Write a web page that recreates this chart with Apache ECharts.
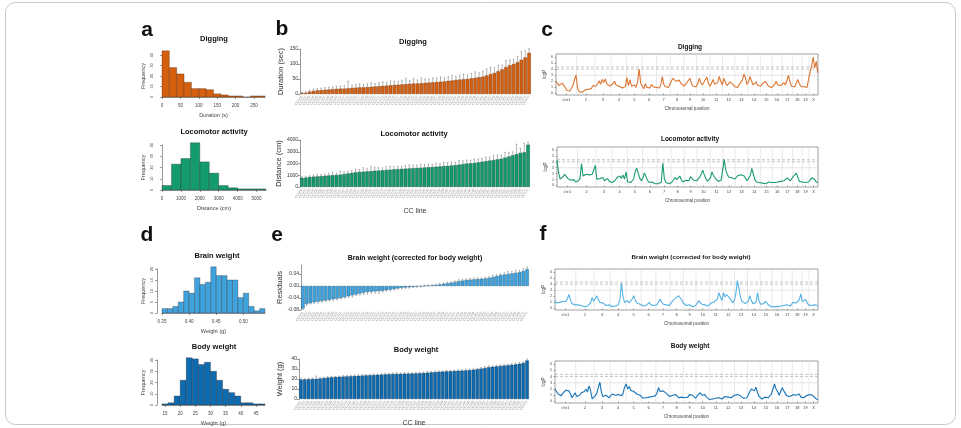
<!DOCTYPE html>
<html>
<head>
<meta charset="utf-8">
<script src="https://cdn.jsdelivr.net/npm/echarts@6/dist/echarts.min.js"></script>
<style>
html, body {margin: 0; padding: 0; background: #fff;}
#main {width: 961px; height: 428px;}
</style>
</head>
<body>
<div id="main"></div>
<script>
// ---- histograms (a, d) ----
var digHistEdges = [0, 20, 40, 60, 80, 100, 120, 140, 160, 180, 200, 220, 240, 260, 280];
var digHistCounts = [44, 28, 22, 14, 8, 8, 7, 3, 2, 1, 1, 0, 1, 1];
var locoHistEdges = [0, 500, 1000, 1500, 2000, 2500, 3000, 3500, 4000, 4500, 5000, 5500];
var locoHistCounts = [4, 23, 28, 42, 25, 15, 4, 2, 1, 1, 1];
var brainHistEdges = [0.35, 0.36, 0.37, 0.38, 0.39, 0.40, 0.41, 0.42, 0.43, 0.44, 0.45, 0.46, 0.47, 0.48, 0.49, 0.50, 0.51, 0.52, 0.53, 0.54];
var brainHistCounts = [2, 2, 3, 5, 10, 9, 16, 13, 14, 21, 17, 17, 15, 15, 7, 9, 3, 1, 2];
var bodyHistEdges = [14, 16, 18, 20, 22, 24, 26, 28, 30, 32, 34, 36, 38, 40, 42, 44, 46, 48];
var bodyHistCounts = [1, 2, 8, 22, 42, 41, 36, 38, 30, 22, 14, 11, 8, 2, 2, 1, 1];
var digHistTicks = [0, 50, 100, 150, 200, 250];
var locoHistTicks = [0, 1000, 2000, 3000, 4000, 5000];
var brainHistTicks = [0.35, 0.40, 0.45, 0.50];
var bodyHistTicks = [15, 20, 25, 30, 35, 40, 45];

// ---- CC line means, sorted (b, e) ----
var ccLines = ['CC001', 'CC002', 'CC003', 'CC004', 'CC005', 'CC006', 'CC007', 'CC008', 'CC009', 'CC010',
    'CC011', 'CC012', 'CC013', 'CC015', 'CC016', 'CC017', 'CC018', 'CC019', 'CC020', 'CC021',
    'CC022', 'CC023', 'CC024', 'CC025', 'CC026', 'CC027', 'CC028', 'CC029', 'CC030', 'CC031',
    'CC032', 'CC033', 'CC034', 'CC035', 'CC036', 'CC037', 'CC038', 'CC039', 'CC040', 'CC041',
    'CC042', 'CC043', 'CC044', 'CC045', 'CC046', 'CC049', 'CC051', 'CC053', 'CC055', 'CC057',
    'CC058', 'CC059', 'CC060', 'CC061', 'CC062', 'CC063', 'CC065', 'CC068', 'CC071', 'CC072'];
var digMeans = [3, 4, 8, 10, 12, 13, 14, 15, 16, 17, 18, 18, 19, 20, 21, 22, 22, 23, 24, 25,
    26, 27, 28, 29, 30, 31, 32, 33, 34, 35, 35, 36, 37, 38, 39, 40, 41, 42, 44, 45,
    47, 48, 49, 50, 52, 54, 56, 58, 62, 66, 70, 76, 82, 90, 96, 100, 106, 114, 122, 137];
var digErr = [3, 4, 5, 6, 6, 7, 7, 8, 8, 9, 9, 10, 24, 10, 11, 12, 10, 11, 13, 10,
    12, 14, 11, 15, 13, 12, 14, 20, 11, 16, 12, 18, 14, 11, 15, 13, 16, 12, 14, 17,
    13, 15, 18, 14, 16, 20, 15, 18, 22, 24, 18, 20, 14, 22, 18, 16, 20, 28, 22, 14];
var locoMeans = [780, 800, 850, 880, 900, 920, 950, 980, 1000, 1020, 1050, 1100, 1150, 1200, 1250, 1280, 1300, 1330, 1350, 1380,
    1400, 1420, 1450, 1470, 1500, 1520, 1540, 1560, 1580, 1600, 1620, 1640, 1660, 1680, 1700, 1720, 1750, 1780, 1800, 1830,
    1860, 1900, 1950, 2000, 2020, 2050, 2100, 2150, 2200, 2250, 2300, 2350, 2400, 2500, 2600, 2700, 2800, 2900, 2950, 3600];
var locoErr = [100, 120, 110, 150, 200, 130, 160, 180, 250, 150, 300, 200, 180, 220, 250, 200, 350, 260, 400, 300,
    250, 220, 280, 300, 260, 240, 200, 280, 310, 250, 240, 300, 260, 280, 220, 300, 250, 320, 280, 300,
    260, 350, 280, 300, 250, 320, 300, 280, 350, 300, 400, 380, 300, 450, 350, 300, 850, 400, 780, 250];
var brainMeans = [-0.075, -0.06, -0.057, -0.054, -0.052, -0.05, -0.048, -0.046, -0.044, -0.042,
    -0.04, -0.037, -0.034, -0.031, -0.028, -0.025, -0.022, -0.02, -0.019, -0.018,
    -0.017, -0.016, -0.014, -0.012, -0.01, -0.008, -0.006, -0.005, -0.004, -0.003,
    -0.002, -0.001, 0.0, 0.001, 0.002, 0.003, 0.005, 0.007, 0.009, 0.011,
    0.013, 0.016, 0.018, 0.02, 0.021, 0.022, 0.023, 0.024, 0.025, 0.027,
    0.03, 0.033, 0.036, 0.038, 0.04, 0.042, 0.044, 0.046, 0.05, 0.056];
var brainErr = [0.004, 0.005, 0.003, 0.004, 0.005, 0.004, 0.003, 0.004, 0.005, 0.004,
    0.003, 0.004, 0.005, 0.006, 0.004, 0.005, 0.006, 0.007, 0.005, 0.006,
    0.008, 0.004, 0.003, 0.005, 0.004, 0.003, 0.004, 0.003, 0.003, 0.002,
    0.002, 0.002, 0.002, 0.002, 0.003, 0.003, 0.004, 0.003, 0.004, 0.003,
    0.004, 0.005, 0.004, 0.003, 0.004, 0.005, 0.004, 0.003, 0.004, 0.005,
    0.006, 0.004, 0.005, 0.006, 0.008, 0.007, 0.009, 0.006, 0.008, 0.007];
var bodyMeans = [19.5, 19.6, 19.8, 20, 20.2, 20.5, 21, 21.4, 21.8, 22, 22.2, 22.4, 22.6, 22.8, 23, 23.2, 23.4, 23.6, 23.8, 24,
    24.2, 24.4, 24.6, 24.8, 25, 25.1, 25.2, 25.3, 25.4, 25.5, 25.6, 25.8, 26, 26.3, 26.6, 26.9, 27.2, 27.4, 27.6, 27.8,
    28, 28.2, 28.4, 28.6, 28.9, 29.3, 29.8, 30.4, 31, 31.8, 32.2, 32.6, 33, 33.4, 33.8, 34.2, 34.6, 35.2, 36, 38.5];
var bodyErr = [1.2, 0.8, 1.0, 0.9, 2.8, 1.0, 0.8, 1.1, 0.9, 0.7, 0.8, 1.0, 0.9, 0.8, 1.1, 0.9, 1.0, 0.8, 0.9, 1.2,
    0.8, 1.0, 1.3, 0.9, 1.1, 1.4, 0.9, 1.0, 1.2, 0.8, 1.1, 0.9, 1.0, 1.2, 0.9, 1.1, 1.0, 0.8, 1.2, 0.9,
    1.0, 1.1, 0.9, 1.3, 1.0, 0.9, 1.1, 1.2, 1.4, 1.3, 1.0, 1.2, 1.1, 1.3, 1.0, 1.2, 1.4, 1.3, 1.2, 1.5];
var digBarTicks = [0, 50, 100, 150];
var locoBarTicks = [0, 1000, 2000, 3000, 4000];
var brainBarTicks = [-0.08, -0.04, 0, 0.04];
var bodyBarTicks = [0, 10, 20, 30, 40];

// ---- genome scans (c, f), one value every 15 Mb ----
var chrNames = ['chr1', '2', '3', '4', '5', '6', '7', '8', '9', '10', '11', '12', '13', '14', '15', '16', '17', '18', '19', 'X'];
var chrBounds = [0, 201, 380, 535, 688, 837, 979, 1116, 1245, 1368, 1498, 1622, 1742, 1868, 1991, 2105, 2202, 2303, 2397, 2465, 2552];
var scanStep = 15;
var logpTicks = [0, 1, 2, 3, 4, 5, 6];
var thrDashed = [4.35, 4.0];
var thrLight = 3.0;
var digScan = [2.0, 2.0, 1.3, 1.1, 1.7, 1.6, 1.0, 0.5, 0.3, 0.4, 0.7, 1.3, 2.3, 3.0, 0.9, 0.3, 0.2, 0.2, 0.4, 0.6,
    0.5, 0.7, 0.9, 0.8, 1.3, 1.0, 1.2, 1.6, 2.1, 1.5, 2.3, 1.8, 2.4, 1.6, 1.9, 1.2, 1.0, 1.6, 2.0, 1.4,
    1.7, 1.2, 1.5, 0.9, 0.7, 1.1, 2.6, 1.3, 2.3, 1.2, 0.9, 1.4, 1.0, 1.9, 4.0, 1.7, 1.2, 0.8, 1.6, 1.0,
    0.7, 0.9, 1.5, 1.1, 0.8, 1.0, 1.3, 0.9, 1.4, 2.8, 1.5, 1.1, 0.8, 1.0, 1.3, 2.1, 2.5, 2.8, 2.0, 2.3,
    2.2, 1.7, 1.4, 1.2, 1.5, 1.8, 2.1, 2.5, 1.6, 1.2, 1.5, 1.1, 1.6, 2.5, 1.9, 1.4, 1.8, 2.3, 2.7, 1.6,
    1.2, 1.7, 2.3, 1.5, 1.3, 1.8, 2.8, 2.0, 1.4, 2.5, 1.8, 1.3, 1.6, 1.9, 2.2, 1.5, 1.1, 1.3, 1.0, 1.5,
    1.8, 2.2, 3.2, 2.6, 1.5, 1.9, 2.8, 2.0, 1.4, 1.6, 1.9, 1.3, 1.0, 1.2, 1.6, 1.3, 2.0, 1.7, 1.2, 1.4,
    1.0, 1.1, 1.5, 2.0, 1.4, 1.1, 1.3, 1.2, 1.8, 1.4, 2.2, 3.0, 1.8, 1.2, 1.4, 1.1, 1.7, 2.3, 1.6, 1.2,
    0.9, 1.1, 0.8, 1.0, 1.3, 3.6, 4.5, 6.0, 4.2, 5.3, 3.4];
var locoScan = [4.3, 2.2, 1.1, 0.9, 1.5, 1.9, 1.6, 1.2, 1.3, 0.9, 0.7, 1.0, 0.6, 0.5, 0.8, 1.2, 3.7, 1.6, 1.4, 1.9,
    1.6, 1.8, 1.5, 1.9, 2.1, 3.4, 1.0, 0.7, 1.2, 1.0, 1.3, 0.8, 1.1, 1.2, 0.7, 0.9, 0.5, 0.7, 0.9, 1.3,
    1.0, 1.6, 1.2, 1.8, 1.1, 2.3, 0.6, 0.4, 0.5, 0.7, 1.1, 2.4, 2.9, 2.6, 1.2, 0.8, 1.3, 2.1, 1.5, 0.9,
    0.5, 0.4, 0.6, 0.5, 0.3, 0.4, 0.3, 0.5, 0.6, 3.8, 1.1, 0.5, 0.4, 0.3, 0.4, 0.6, 0.9, 1.4, 1.0, 1.2,
    1.6, 1.0, 0.6, 0.8, 0.9, 1.2, 0.8, 1.5, 1.3, 0.9, 0.6, 0.8, 1.1, 1.4, 1.9, 2.6, 1.8, 1.2, 0.7, 0.9,
    1.3, 2.3, 1.7, 1.3, 1.0, 0.7, 0.6, 0.9, 1.2, 4.4, 2.6, 1.9, 1.4, 1.6, 1.3, 1.5, 1.1, 1.4, 1.7, 1.5,
    1.8, 2.1, 1.6, 1.2, 0.8, 1.0, 1.7, 2.9, 1.9, 1.0, 0.6, 0.4, 0.5, 0.3, 0.4, 0.5, 0.3, 0.4, 0.6, 0.4,
    0.5, 0.7, 0.5, 0.8, 0.6, 0.9, 0.7, 1.0, 0.8, 1.1, 1.3, 1.0, 0.8, 1.1, 1.5, 1.2, 2.1, 1.4, 0.7, 0.5,
    0.6, 0.8, 0.5, 0.4, 0.6, 0.9, 1.3, 1.6, 1.0, 0.6, 0.5];
var brainScan = [1.3, 0.9, 0.6, 1.0, 0.7, 1.2, 1.5, 1.1, 1.6, 2.3, 1.4, 0.8, 0.5, 0.6, 0.4, 0.6, 0.3, 0.5, 0.4, 0.3,
    0.6, 0.4, 0.5, 0.9, 1.8, 1.2, 1.6, 2.1, 1.5, 1.0, 0.7, 0.9, 0.6, 0.5, 0.4, 0.6, 0.4, 0.3, 0.5, 0.4,
    0.3, 0.6, 1.5, 4.2, 1.9, 1.0, 0.8, 1.3, 0.9, 1.2, 1.6, 2.1, 1.3, 0.9, 1.2, 0.7, 0.5, 0.4, 0.7, 0.5,
    0.8, 1.0, 0.6, 0.4, 0.5, 0.3, 0.6, 0.9, 1.5, 1.1, 0.7, 0.5, 0.6, 0.4, 0.5, 0.8, 1.2, 1.5, 1.7, 1.9,
    2.1, 1.8, 1.4, 0.9, 0.6, 0.5, 0.4, 0.6, 0.5, 0.3, 0.4, 0.5, 0.8, 1.3, 1.0, 0.7, 0.9, 0.6, 0.5, 0.4,
    0.7, 0.9, 1.0, 1.1, 0.8, 1.5, 2.6, 1.9, 1.3, 2.6, 1.9, 2.3, 2.0, 1.7, 1.4, 0.9, 1.3, 2.5, 4.6, 3.3,
    1.8, 1.2, 1.5, 0.8, 0.6, 1.2, 2.1, 1.3, 0.8, 0.6, 1.0, 2.6, 1.2, 0.7, 0.5, 0.8, 1.2, 0.9, 0.6, 0.4,
    0.3, 0.5, 0.3, 0.4, 0.3, 0.5, 0.4, 0.3, 0.5, 0.4, 0.6, 0.5, 0.4, 0.6, 1.0, 1.3, 0.9, 1.2, 1.4, 2.4,
    1.1, 0.8, 1.5, 1.0, 0.6, 0.9, 0.5, 0.4, 0.6, 0.9, 0.5];
var bodyScan = [2.0, 1.6, 1.2, 1.4, 0.9, 1.3, 1.6, 1.8, 1.5, 1.7, 1.2, 0.6, 1.0, 1.4, 0.8, 0.7, 1.0, 1.4, 1.2, 1.6,
    2.0, 1.5, 2.5, 1.8, 0.4, 0.6, 0.9, 1.3, 1.0, 3.1, 1.5, 0.8, 0.7, 1.0, 0.8, 0.6, 0.9, 1.2, 1.4, 1.0,
    1.3, 1.1, 1.4, 0.9, 1.3, 2.3, 2.8, 2.0, 2.4, 1.8, 2.1, 1.6, 1.8, 1.2, 0.9, 1.0, 0.7, 0.5, 0.8, 0.6,
    0.9, 0.7, 0.5, 0.8, 0.6, 0.9, 1.4, 2.2, 1.6, 1.9, 1.7, 2.0, 1.3, 1.5, 0.8, 0.6, 1.0, 0.8, 1.1, 0.9,
    0.6, 0.5, 0.7, 0.5, 0.6, 0.9, 0.7, 1.1, 0.8, 1.0, 0.7, 0.5, 0.9, 1.2, 1.4, 1.0, 0.8, 1.1, 0.7, 0.4,
    0.3, 0.5, 0.4, 0.3, 0.5, 0.4, 0.6, 0.5, 0.4, 0.6, 0.8, 0.5, 0.7, 0.9, 0.6, 0.8, 1.0, 0.7, 1.1, 1.4,
    0.9, 0.6, 0.5, 0.8, 0.6, 1.0, 1.6, 2.0, 2.2, 1.7, 2.3, 1.4, 0.8, 0.6, 0.4, 0.5, 0.7, 0.4, 0.6, 0.9,
    1.2, 1.5, 2.8, 2.0, 1.6, 1.0, 1.3, 2.2, 1.7, 1.3, 0.9, 1.1, 0.8, 0.7, 1.1, 1.4, 1.0, 0.8, 1.2, 0.7,
    0.9, 0.6, 0.8, 1.0, 0.7, 1.1, 1.3, 0.9, 0.6, 0.4, 0.3];

var FONT = 'Liberation Sans, Arial, Helvetica, sans-serif';
var axisColor = '#555';
var grid = [], xAxis = [], yAxis = [], series = [], graphic = [];

function plain(v) {
    return String(v);
}

function fixed2(v) {
    return v.toFixed(2);
}

// histogram bars are drawn as rects spanning [lower edge, upper edge]
function histPanel(box, edges, counts, color, xTicks, yMax, yInt, xName, xFmt) {
    var g = grid.length;
    grid.push({left: box[0], top: box[1], width: box[2], height: box[3]});
    xAxis.push({
        gridIndex: g, type: 'value', min: edges[0], max: edges[edges.length - 1], offset: 3,
        axisLine: {lineStyle: {color: axisColor, width: 0.6}},
        axisTick: {customValues: xTicks, length: 2, lineStyle: {color: axisColor, width: 0.6}},
        axisLabel: {customValues: xTicks, fontSize: 4.5, color: '#444', margin: 3, formatter: xFmt || plain},
        splitLine: {show: false},
        name: xName, nameLocation: 'middle', nameGap: 12, nameTextStyle: {fontSize: 5.5, color: '#444'}
    });
    yAxis.push({
        gridIndex: g, type: 'value', min: 0, max: yMax, interval: yInt, offset: 5,
        axisLine: {show: true, lineStyle: {color: axisColor, width: 0.6}},
        axisTick: {show: true, length: 2, lineStyle: {color: axisColor, width: 0.6}},
        axisLabel: {fontSize: 4, color: '#444', rotate: 90, margin: 3, formatter: plain},
        splitLine: {show: false},
        name: 'Frequency', nameLocation: 'middle', nameGap: 11, nameTextStyle: {fontSize: 5.5, color: '#444'}
    });
    var data = [];
    for (var i = 0; i < counts.length; i++) {
        data.push([edges[i], edges[i + 1], counts[i]]);
    }
    series.push({
        type: 'custom', xAxisIndex: g, yAxisIndex: g, data: data, silent: true, clip: false,
        encode: {x: [0, 1], y: 2},
        renderItem: function (params, api) {
            var p0 = api.coord([api.value(0), api.value(2)]);
            var p1 = api.coord([api.value(1), 0]);
            return {
                type: 'rect',
                shape: {x: p0[0], y: p0[1], width: p1[0] - p0[0], height: p1[1] - p0[1]},
                style: {fill: color, stroke: 'rgba(40,20,10,0.55)', lineWidth: 0.5}
            };
        }
    });
}

function errRender(params, api) {
    var i = api.value(0), m = api.value(1), e = api.value(2);
    var tip = m >= 0 ? m + e : m - e;
    var p0 = api.coord([i, m]);
    var p1 = api.coord([i, tip]);
    var w = api.size([1, 0])[0] * 0.35;
    return {
        type: 'group', children: [
            {type: 'line', shape: {x1: p0[0], y1: p0[1], x2: p1[0], y2: p1[1]}, style: {stroke: '#666', lineWidth: 0.5}},
            {type: 'line', shape: {x1: p1[0] - w / 2, y1: p1[1], x2: p1[0] + w / 2, y2: p1[1]}, style: {stroke: '#666', lineWidth: 0.5}}
        ]
    };
}

function barPanel(box, means, errs, color, edge, yMin, yMax, yTicks, yName, yFmt, xName) {
    var g = grid.length;
    grid.push({left: box[0], top: box[1], width: box[2], height: box[3]});
    xAxis.push({
        gridIndex: g, type: 'category', data: ccLines,
        axisLine: {show: false, onZero: false}, axisTick: {show: false},
        axisLabel: {interval: 0, rotate: 55, fontSize: 3.5, color: '#999', margin: 2},
        name: xName, nameLocation: 'middle', nameGap: 21, nameTextStyle: {fontSize: 7, color: '#333'}
    });
    yAxis.push({
        gridIndex: g, type: 'value', min: yMin, max: yMax,
        axisLine: {show: true, lineStyle: {color: axisColor, width: 0.6}},
        axisTick: {show: true, customValues: yTicks, length: 2, lineStyle: {color: axisColor, width: 0.6}},
        axisLabel: {customValues: yTicks, fontSize: 5, color: '#333', margin: 2, formatter: yFmt || plain},
        splitLine: {show: false},
        name: yName, nameLocation: 'middle', nameGap: 15, nameTextStyle: {fontSize: 7.5, color: '#333'}
    });
    series.push({
        type: 'bar', xAxisIndex: g, yAxisIndex: g, data: means, barCategoryGap: '10%', silent: true,
        itemStyle: {color: color, borderColor: edge, borderWidth: 0.4}
    });
    var data = [];
    for (var i = 0; i < means.length; i++) {
        data.push([i, means[i], errs[i]]);
    }
    series.push({
        type: 'custom', xAxisIndex: g, yAxisIndex: g, data: data, silent: true, clip: false, z: 3,
        encode: {x: 0, y: 1}, renderItem: errRender
    });
}

function scanPanel(box, scan, color) {
    var g = grid.length;
    var mids = [];
    for (var k = 0; k < chrNames.length; k++) {
        mids.push((chrBounds[k] + chrBounds[k + 1]) / 2);
    }
    grid.push({left: box[0], top: box[1], width: box[2], height: box[3], show: true, borderColor: '#777', borderWidth: 0.7});
    xAxis.push({
        gridIndex: g, type: 'value', min: 0, max: chrBounds[chrBounds.length - 1],
        axisLine: {show: false},
        axisTick: {customValues: mids, length: 1.5, lineStyle: {color: axisColor, width: 0.5}},
        axisLabel: {
            customValues: mids, fontSize: 4, color: '#444', margin: 3,
            formatter: function (v) {
                var best = 0;
                for (var k = 0; k < mids.length; k++) {
                    if (Math.abs(mids[k] - v) < Math.abs(mids[best] - v)) best = k;
                }
                return chrNames[best];
            }
        },
        splitLine: {show: false},
        name: 'Chromosomal position', nameLocation: 'middle', nameGap: 11, nameTextStyle: {fontSize: 4.5, color: '#444'}
    });
    yAxis.push({
        gridIndex: g, type: 'value', min: -0.25, max: 6.5,
        axisLine: {show: false},
        axisTick: {customValues: logpTicks, length: 1.5, lineStyle: {color: axisColor, width: 0.5}},
        axisLabel: {customValues: logpTicks, fontSize: 3.5, color: '#444', margin: 3, formatter: plain},
        splitLine: {show: false},
        name: 'logP', nameLocation: 'middle', nameGap: 8, nameTextStyle: {fontSize: 4.5, color: '#444'}
    });
    // chromosome borders
    var bounds = [];
    for (var b = 1; b < chrBounds.length - 1; b++) bounds.push([chrBounds[b], 0]);
    series.push({
        type: 'custom', xAxisIndex: g, yAxisIndex: g, data: bounds, silent: true, z: 1,
        encode: {x: 0, y: 1},
        renderItem: function (params, api) {
            var x = api.coord([api.value(0), 0])[0];
            var cs = params.coordSys;
            return {type: 'line', shape: {x1: x, y1: cs.y, x2: x, y2: cs.y + cs.height}, style: {stroke: '#dcdcdc', lineWidth: 0.6}};
        }
    });
    // significance thresholds
    var thr = [[0, thrLight, 0], [0, thrDashed[0], 1], [0, thrDashed[1], 1]];
    series.push({
        type: 'custom', xAxisIndex: g, yAxisIndex: g, data: thr, silent: true, z: 1,
        encode: {x: 0, y: 1},
        renderItem: function (params, api) {
            var y = api.coord([0, api.value(1)])[1];
            var cs = params.coordSys;
            var dashed = api.value(2) === 1;
            return {
                type: 'line', shape: {x1: cs.x, y1: y, x2: cs.x + cs.width, y2: y},
                style: {stroke: dashed ? '#a0a0a0' : '#d4d4d4', lineWidth: 0.6, lineDash: dashed ? [3, 2] : null}
            };
        }
    });
    var pts = [];
    for (var i = 0; i < scan.length; i++) pts.push([i * scanStep, scan[i]]);
    series.push({
        type: 'line', xAxisIndex: g, yAxisIndex: g, data: pts, symbol: 'none', silent: true, z: 3,
        lineStyle: {color: color, width: 1.1}
    });
}

function label(text, x, y, size, weight) {
    graphic.push({
        type: 'text', x: x, y: y, silent: true,
        style: {text: text, fontFamily: FONT, fontSize: size, fontWeight: weight || 'bold', fill: '#111', textAlign: 'center', textVerticalAlign: 'middle'}
    });
}

var cDig = '#D4600F', cLoco = '#139A6E', cBrain = '#3FA3DE', cBody = '#0E6BAF';

histPanel([162, 55, 103, 42], digHistEdges, digHistCounts, cDig, digHistTicks, 40, 10, 'Duration (s)');
histPanel([162, 145, 104, 45], locoHistEdges, locoHistCounts, cLoco, locoHistTicks, 40, 10, 'Distance (cm)');
histPanel([162, 269, 103, 44], brainHistEdges, brainHistCounts, cBrain, brainHistTicks, 20, 5, 'Weight (g)', fixed2);
histPanel([162, 360, 103, 45], bodyHistEdges, bodyHistCounts, cBody, bodyHistTicks, 40, 10, 'Weight (g)');

barPanel([300, 49, 231, 45], digMeans, digErr, cDig, '#6e2e05', 0, 150, digBarTicks, 'Duration (sec)', null, '');
barPanel([300, 140, 230, 47], locoMeans, locoErr, cLoco, '#0b4a35', 0, 4000, locoBarTicks, 'Distance (cm)', null, 'CC line');
barPanel([301, 265, 228, 45], brainMeans, brainErr, cBrain, '#1c5577', -0.08, 0.07, brainBarTicks, 'Residuals', fixed2, '');
barPanel([299, 359, 230, 43], bodyMeans, bodyErr, cBody, '#07375c', 0, 40, bodyBarTicks, 'Weight (g)', null, 'CC line');

scanPanel([556, 54, 262, 41], digScan, '#DD7530');
scanPanel([557, 147, 261, 40], locoScan, '#1A9C72');
scanPanel([555, 269, 263, 41], brainScan, '#55B2E6');
scanPanel([555, 361, 263, 42], bodyScan, '#1774B9');

// outer frame
graphic.push({
    type: 'rect', silent: true, z: -1,
    shape: {x: 5.5, y: 2.5, width: 950, height: 422, r: 10},
    style: {fill: 'none', stroke: '#c8c8c8', lineWidth: 1}
});

label('a', 147, 30, 21);
label('b', 282, 29, 21);
label('c', 547, 30, 21);
label('d', 147, 235, 21);
label('e', 277, 235, 21);
label('f', 543, 234, 21);

label('Digging', 214, 39, 7.5);
label('Locomotor activity', 214, 132, 7.5);
label('Brain weight', 217, 256, 7.5);
label('Body weight', 214, 347, 7.5);
label('Digging', 413, 42, 7.5);
label('Locomotor activity', 414, 134, 7.5);
label('Brain weight (corrected for body weight)', 415, 258, 7);
label('Body weight', 416, 350, 7.5);
label('Digging', 690, 47, 6.5);
label('Locomotor activity', 690, 139, 6.5);
label('Brain weight (corrected for body weight)', 691, 257, 6.2);
label('Body weight', 690, 346, 6.5);

var chart = echarts.init(document.getElementById('main'));
chart.setOption({
    animation: false,
    backgroundColor: '#fff',
    textStyle: {fontFamily: FONT},
    grid: grid,
    xAxis: xAxis,
    yAxis: yAxis,
    series: series,
    graphic: graphic
});
</script>
</body>
</html>
